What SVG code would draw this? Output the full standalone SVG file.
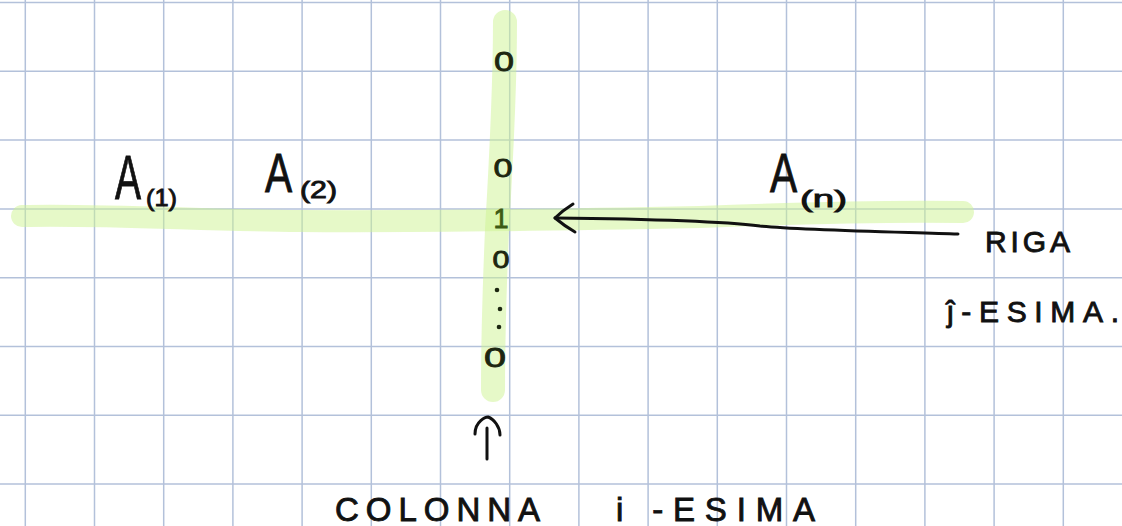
<svg xmlns="http://www.w3.org/2000/svg" width="1122" height="526" viewBox="0 0 1122 526">
<style>
.grid line{stroke:#b3c1da;stroke-width:1.5}
.hl{fill:none;stroke:#cdf491;stroke-opacity:0.5;stroke-linecap:round;stroke-linejoin:round}
.hw{font-family:"Liberation Sans",Arial,sans-serif;fill:#111;stroke:#111;stroke-width:0.9}
.dig{font-family:"Liberation Sans",Arial,sans-serif;fill:#1c2610;stroke:#1c2610;stroke-width:0.8;text-anchor:middle}
.ink{fill:none;stroke:#111;stroke-width:3;stroke-linecap:round;stroke-linejoin:round}
</style>
<rect width="1122" height="526" fill="#ffffff"/>
<g class="grid" id="grid">
<line x1="25.3" y1="0" x2="25.3" y2="526"/>
<line x1="94.5" y1="0" x2="94.5" y2="526"/>
<line x1="163.7" y1="0" x2="163.7" y2="526"/>
<line x1="232.9" y1="0" x2="232.9" y2="526"/>
<line x1="302.1" y1="0" x2="302.1" y2="526"/>
<line x1="371.3" y1="0" x2="371.3" y2="526"/>
<line x1="440.5" y1="0" x2="440.5" y2="526"/>
<line x1="509.7" y1="0" x2="509.7" y2="526"/>
<line x1="578.9" y1="0" x2="578.9" y2="526"/>
<line x1="648.1" y1="0" x2="648.1" y2="526"/>
<line x1="717.3" y1="0" x2="717.3" y2="526"/>
<line x1="786.5" y1="0" x2="786.5" y2="526"/>
<line x1="855.7" y1="0" x2="855.7" y2="526"/>
<line x1="924.9" y1="0" x2="924.9" y2="526"/>
<line x1="994.1" y1="0" x2="994.1" y2="526"/>
<line x1="1063.3" y1="0" x2="1063.3" y2="526"/>
<line x1="0" y1="2.5" x2="1122" y2="2.5"/>
<line x1="0" y1="71.3" x2="1122" y2="71.3"/>
<line x1="0" y1="140.1" x2="1122" y2="140.1"/>
<line x1="0" y1="208.9" x2="1122" y2="208.9"/>
<line x1="0" y1="277.7" x2="1122" y2="277.7"/>
<line x1="0" y1="346.5" x2="1122" y2="346.5"/>
<line x1="0" y1="415.3" x2="1122" y2="415.3"/>
<line x1="0" y1="484.1" x2="1122" y2="484.1"/>
</g>
<g id="highlights">
<path class="hl" stroke-width="22" d="M 22 216 C 100 214, 200 220, 300 221 C 450 222, 600 219, 700 217 C 800 213, 900 211, 963 212"/>
<path class="hl" stroke-width="24" d="M 505 22 C 505 80, 500 180, 497 230 C 494 300, 493 350, 493 390"/>
</g>
<g id="row-labels">
<g id="a1"><text class="hw" transform="translate(115,199) scale(0.62,1)" font-size="63">A</text><text class="hw" x="146" y="206" font-size="24" textLength="31" lengthAdjust="spacingAndGlyphs">(1)</text></g>
<g id="a2"><text class="hw" transform="translate(265,192) scale(0.74,1)" font-size="55">A</text><text class="hw" x="300" y="198" font-size="24" textLength="37" lengthAdjust="spacingAndGlyphs">(2)</text></g>
<g id="an"><text class="hw" transform="translate(770,192) scale(0.74,1)" font-size="55">A</text><text class="hw" x="800" y="207" font-size="24" textLength="47" lengthAdjust="spacingAndGlyphs">(n)</text></g>
</g>
<g id="column">
<text class="dig" x="504" y="71" font-size="28" textLength="20" lengthAdjust="spacingAndGlyphs">0</text>
<text class="dig" x="503" y="177" font-size="26" textLength="19" lengthAdjust="spacingAndGlyphs">0</text>
<text class="dig" x="501" y="228" font-size="27" style="fill:#3d5a14;stroke:#3d5a14">1</text>
<text class="dig" x="501" y="268" font-size="23" textLength="17" lengthAdjust="spacingAndGlyphs">0</text>
<circle cx="497" cy="290" r="2.3" fill="#1c2610"/>
<circle cx="500" cy="309" r="2.3" fill="#1c2610"/>
<circle cx="499" cy="327" r="2.3" fill="#1c2610"/>
<text class="dig" x="495" y="367" font-size="28" textLength="22" lengthAdjust="spacingAndGlyphs">0</text>
</g>
<g id="connectors">
<path class="ink" d="M 958 234 C 900 232, 800 230, 760 226 C 720 221, 650 219, 555 218"/>
<path class="ink" d="M 573 204 C 565 209, 559 214, 555 218 C 561 223, 568 228, 575 232"/>
<path class="ink" d="M 487 459 L 487 428"/>
<path class="ink" d="M 475 434 C 475 421, 486 417, 488 417 C 494 419, 500 427, 500 435"/>
</g>
<g id="riga-label">
<text class="hw" x="985" y="252" font-size="30" textLength="85" lengthAdjust="spacing">RIGA</text>
<text class="hw" x="947" y="322" font-size="30" textLength="172" lengthAdjust="spacing">ĵ-ESIMA.</text>
</g>
<g id="colonna-label">
<text class="hw" x="335" y="521" font-size="33" textLength="205" lengthAdjust="spacing">COLONNA</text>
<text class="hw" x="616" y="521" font-size="33" textLength="199" lengthAdjust="spacing">i -ESIMA</text>
</g>
</svg>
